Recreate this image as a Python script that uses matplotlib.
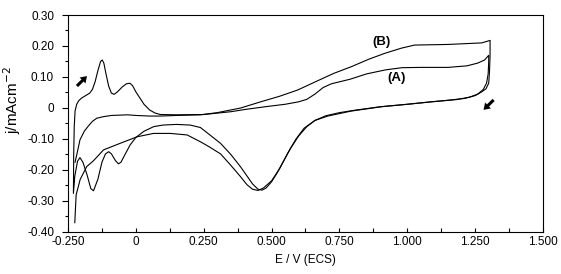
import numpy as np
import matplotlib.pyplot as plt
from matplotlib.ticker import MultipleLocator, FuncFormatter

plt.rcParams['font.family'] = ['Liberation Sans', 'DejaVu Sans']

# Voltammogram (A): forward sweep then reverse sweep, E in V, j in mA/cm2
E_a = [-0.230, -0.229, -0.227, -0.224, -0.218, -0.210, -0.200, -0.185, -0.170, -0.160,
       -0.150, -0.140, -0.130, -0.124, -0.118, -0.110, -0.100, -0.090, -0.080, -0.068,
       -0.050, -0.035, -0.022, -0.012, 0.000, 0.015, 0.030, 0.050, 0.070, 0.090,
       0.150, 0.250, 0.350, 0.400, 0.485, 0.550, 0.600, 0.630, 0.660, 0.690,
       0.720, 0.790, 0.850, 0.920, 0.980, 1.050, 1.150, 1.220, 1.260, 1.285, 1.300,
       1.300, 1.298, 1.292, 1.280, 1.260, 1.230, 1.180, 1.090, 1.000, 0.900,
       0.800, 0.750, 0.700, 0.660, 0.630, 0.600, 0.570, 0.545, 0.520, 0.500,
       0.480, 0.465, 0.450, 0.430, 0.410, 0.386, 0.350, 0.312, 0.270, 0.238,
       0.200, 0.150, 0.100, 0.066, 0.030, 0.000, -0.021, -0.040, -0.055, -0.064,
       -0.075, -0.090, -0.100, -0.112, -0.125, -0.140, -0.156, -0.166, -0.180, -0.195,
       -0.206, -0.215, -0.225, -0.230]
j_a = [-0.270, -0.150, -0.060, -0.010, 0.012, 0.024, 0.032, 0.040, 0.048, 0.060,
       0.085, 0.120, 0.150, 0.155, 0.145, 0.110, 0.070, 0.048, 0.044, 0.052,
       0.068, 0.078, 0.080, 0.072, 0.052, 0.032, 0.012, -0.006, -0.016, -0.021,
       -0.022, -0.021, -0.012, -0.005, 0.005, 0.012, 0.020, 0.028, 0.045, 0.066,
       0.078, 0.093, 0.110, 0.123, 0.130, 0.131, 0.131, 0.136, 0.145, 0.155, 0.170,
       0.150, 0.110, 0.080, 0.060, 0.045, 0.035, 0.027, 0.020, 0.012, 0.004,
       -0.008, -0.015, -0.025, -0.040, -0.060, -0.090, -0.130, -0.170, -0.210, -0.238,
       -0.258, -0.265, -0.262, -0.245, -0.220, -0.190, -0.150, -0.114, -0.085, -0.063,
       -0.055, -0.053, -0.055, -0.060, -0.075, -0.095, -0.119, -0.150, -0.175, -0.180,
       -0.170, -0.148, -0.141, -0.148, -0.175, -0.230, -0.267, -0.260, -0.215, -0.175,
       -0.160, -0.172, -0.220, -0.275]

# Voltammogram (B)
E_b = [-0.224, -0.215, -0.206, -0.190, -0.175, -0.160, -0.144, -0.120, -0.090, -0.058,
       -0.030, 0.000, 0.050, 0.090, 0.150, 0.238, 0.300, 0.386, 0.460, 0.530,
       0.596, 0.670, 0.730, 0.793, 0.860, 0.916, 0.978, 1.027, 1.150, 1.274, 1.305,
       1.305, 1.303, 1.300, 1.290, 1.274, 1.250, 1.212, 1.150, 1.089, 1.000,
       0.904, 0.793, 0.707, 0.660, 0.620, 0.590, 0.560, 0.530, 0.500, 0.470,
       0.450, 0.430, 0.410, 0.386, 0.350, 0.312, 0.270, 0.238, 0.189, 0.127,
       0.065, 0.004, -0.058, -0.119, -0.156, -0.181, -0.205, -0.220, -0.225]
j_b = [-0.175, -0.140, -0.103, -0.075, -0.058, -0.043, -0.033, -0.028, -0.024, -0.023,
       -0.022, -0.024, -0.026, -0.026, -0.024, -0.022, -0.015, 0.000, 0.020, 0.038,
       0.058, 0.088, 0.112, 0.133, 0.158, 0.176, 0.193, 0.203, 0.205, 0.210, 0.218,
       0.170, 0.120, 0.080, 0.062, 0.052, 0.040, 0.031, 0.025, 0.020, 0.012,
       0.004, -0.010, -0.026, -0.040, -0.065, -0.100, -0.145, -0.195, -0.235, -0.258,
       -0.266, -0.262, -0.248, -0.222, -0.185, -0.148, -0.125, -0.109, -0.087, -0.082,
       -0.082, -0.093, -0.114, -0.135, -0.170, -0.189, -0.230, -0.280, -0.370]

x_ticks = [-0.25, 0, 0.25, 0.5, 0.75, 1.0, 1.25, 1.5]
y_ticks = [-0.4, -0.3, -0.2, -0.1, 0, 0.1, 0.2, 0.3]

fig = plt.figure(figsize=(5.61, 2.74), dpi=100)
ax = fig.add_axes([68 / 561, 1 - 232 / 274, 475 / 561, 217 / 274])

ax.plot(E_a, j_a, color='black', lw=0.8)
ax.plot(E_b, j_b, color='black', lw=0.8)

ax.set_xlim(-0.25, 1.5)
ax.set_ylim(-0.4, 0.3)
ax.set_xticks(x_ticks)
ax.set_yticks(y_ticks)
ax.xaxis.set_minor_locator(MultipleLocator(0.125))
ax.yaxis.set_minor_locator(MultipleLocator(0.05))
ax.xaxis.set_major_formatter(FuncFormatter(lambda v, p: '0' if abs(v) < 1e-9 else '%.3f' % v))
ax.yaxis.set_major_formatter(FuncFormatter(lambda v, p: '0' if abs(v) < 1e-9 else '%.2f' % v))

ax.tick_params(axis='x', which='major', direction='in', length=3, width=0.8, pad=3, labelsize=8.5)
ax.tick_params(axis='x', which='minor', direction='in', length=3, width=0.8)
ax.tick_params(axis='y', which='major', direction='out', length=4, width=0.8, pad=6, labelsize=8.5)
ax.tick_params(axis='y', which='minor', direction='out', length=2.5, width=0.8)
for s in ax.spines.values():
    s.set_linewidth(0.8)

ax.set_xlabel('E / V (ECS)', fontsize=8.5, labelpad=4)
fig.text(12 / 561, 1 - 100 / 274, 'j/mAcm$^{-2}$', rotation=90, fontsize=11,
         ha='center', va='center')

# sweep direction arrows
arrow_style = dict(facecolor='black', edgecolor='black', width=2.2, headwidth=6,
                   headlength=4.5, shrink=0, lw=0)
ax.annotate('', xy=(-0.180, 0.103), xytext=(-0.217, 0.071), arrowprops=arrow_style)
ax.annotate('', xy=(1.281, -0.006), xytext=(1.318, 0.026), arrowprops=arrow_style)

ax.text(0.904, 0.213, '(B)', fontsize=9.5, fontweight='bold', ha='center', va='center')
ax.text(0.959, 0.098, '(A)', fontsize=9.5, fontweight='bold', ha='center', va='center')

fig.savefig('out.png', dpi=100)
